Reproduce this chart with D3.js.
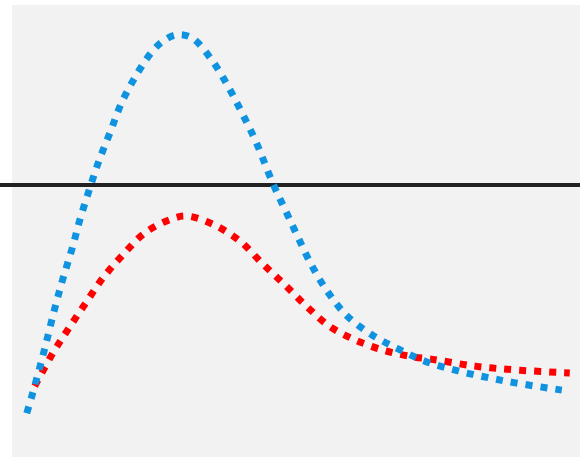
<!DOCTYPE html>
<html>
<head>
<meta charset="utf-8">
<script src="https://cdn.jsdelivr.net/npm/d3@7"></script>
<style>
html,body{margin:0;padding:0;background:#fff;}
svg{display:block;}
</style>
</head>
<body>
<svg id="chart" width="580" height="457"></svg>
<script>
// Data
const blueX = [2.6,3.5,5.6,7.6,9.0,10.6,12.0,13.6,15.3,17.3,19.2,21.7,24.6,26.6,29.0,31.7,35.2,38.0,40.5,42.9,45.9,48.2,50.4,52.8,55.6,59.0,63.4,68.0,72.7,78.0,83.3,88.6,96.8];
const blueY = [9.7,13.5,23.2,33.2,39.6,46.2,52.7,59.1,65.5,71.9,78.1,84.1,89.6,92.0,93.4,92.7,87.8,82.1,76.1,69.9,60.6,54.4,48.5,42.3,36.5,31.2,27.0,23.9,21.2,19.2,17.7,16.4,14.8];
const redX = [4.0,7.2,10.0,13.0,16.0,19.5,23.4,28.2,30.8,35.7,40.3,44.0,47.7,51.8,55.8,60.4,65.7,70.9,73.6,81.5,89.4,98.2];
const redY = [15.7,23.0,28.5,34.1,39.6,44.7,49.6,52.7,53.3,51.3,47.6,42.9,38.5,33.4,29.0,25.9,23.5,22.1,21.7,20.1,19.2,18.6];
const refLevel = 60.2;

const W = 580, H = 457;
const plot = {left: 12, top: 5, right: 580, bottom: 457};

const svg = d3.select("#chart");
const x = d3.scaleLinear().domain([0, 100]).range([plot.left, plot.right]);
const y = d3.scaleLinear().domain([0, 100]).range([plot.bottom, plot.top]);

svg.append("rect")
  .attr("x", plot.left).attr("y", plot.top)
  .attr("width", plot.right - plot.left).attr("height", plot.bottom - plot.top)
  .attr("fill", "#f2f2f2");

const line = d3.line().x(d => x(d[0])).y(d => y(d[1])).curve(d3.curveCatmullRom.alpha(0.5));

svg.append("line")
  .attr("x1", 0).attr("x2", W)
  .attr("y1", y(refLevel)).attr("y2", y(refLevel))
  .attr("stroke", "#222").attr("stroke-width", 4);

const series = [
  {xs: redX, ys: redY, color: "#ff0000"},
  {xs: blueX, ys: blueY, color: "#0f93e1"}
];

series.forEach(s => {
  svg.append("path")
    .datum(s.xs.map((v, i) => [v, s.ys[i]]))
    .attr("d", line)
    .attr("fill", "none")
    .attr("stroke", s.color)
    .attr("stroke-width", 7)
    .attr("stroke-dasharray", "7 8");
});
</script>
</body>
</html>
